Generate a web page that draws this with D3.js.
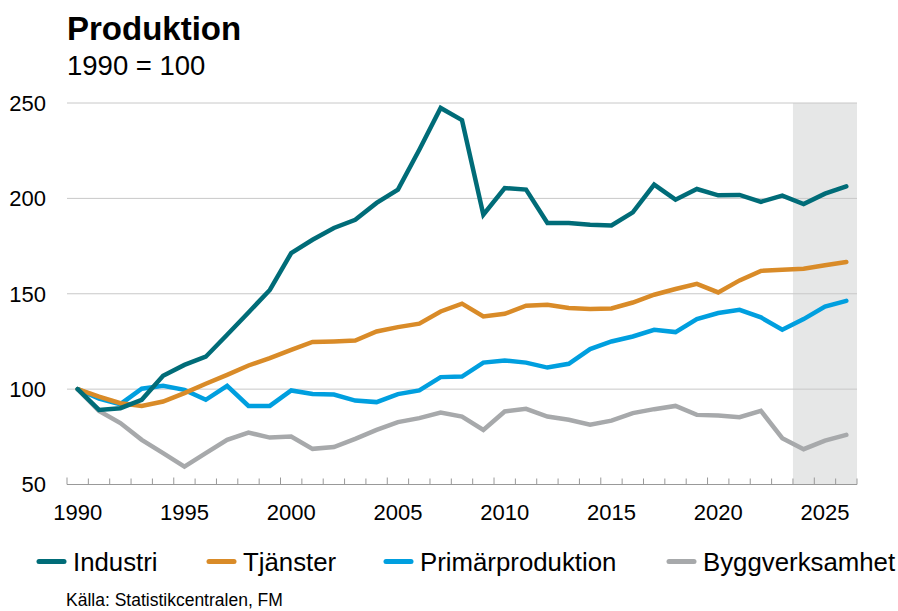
<!DOCTYPE html>
<html>
<head>
<meta charset="utf-8">
<script src="https://cdn.jsdelivr.net/npm/d3@7"></script>
<style>
  html, body { margin: 0; padding: 0; background: #fff; }
  svg { display: block; font-family: "Liberation Sans", Arial, sans-serif; }
</style>
</head>
<body>
<svg id="chart" width="898" height="611"></svg>
<script>
const years = d3.range(1990, 2027);
const forecastYears = [2024, 2025, 2026];
const yTicks = [50, 100, 150, 200, 250];
const xTickLabels = [1990, 1995, 2000, 2005, 2010, 2015, 2020, 2025];

const industri = [100, 89.1, 90, 94.4, 107, 112.7, 117, 128.5, 140.2, 152, 171.3, 178.3, 184.5, 188.8, 197.6, 204.6, 225.5, 247.4, 241, 191.4, 205.4, 204.6, 187.1, 187.1, 186.2, 185.8, 192.7, 207.2, 199.3, 204.9, 201.6, 201.8, 198.2, 201.4, 197, 202.5, 206.3];
const tjanster = [100, 96.1, 92.6, 91.2, 93.5, 97.9, 102.8, 107.5, 112.4, 116.3, 120.6, 124.7, 125, 125.5, 130.2, 132.5, 134.3, 140.7, 144.8, 138.1, 139.5, 143.7, 144.2, 142.5, 142, 142.3, 145.4, 149.5, 152.5, 155.2, 150.7, 157, 162, 162.6, 163.1, 164.9, 166.6];
const primar = [100, 95, 92.1, 100.2, 101.7, 99.6, 94.4, 101.7, 91.2, 91.2, 99.3, 97.4, 97.2, 94, 93.2, 97.4, 99.3, 106.3, 106.6, 113.9, 115, 113.9, 111.3, 113.3, 121, 125, 127.6, 131.1, 129.9, 136.7, 139.9, 141.6, 137.6, 131.1, 136.7, 143.3, 146.3];
const bygg = [100, 88.6, 82.2, 73.4, 66.4, 59.4, 66.4, 73.4, 77.2, 74.6, 75.1, 68.7, 69.6, 73.9, 78.6, 82.7, 84.8, 87.7, 85.6, 78.6, 88.3, 89.7, 85.6, 83.9, 81.3, 83.5, 87.4, 89.5, 91.2, 86.5, 86.2, 85.3, 88.6, 74.3, 68.5, 73, 76];

const seriesNames = ["Industri", "Tjänster", "Primärproduktion", "Byggverksamhet"];
const seriesValues = [industri, tjanster, primar, bygg];
const colors = ["#006c78", "#d98b28", "#009fdf", "#a7a9ab"];

const svg = d3.select("#chart");
const plotLeft = 67, plotRight = 857, plotTop = 103, plotBottom = 484.5;

const x = d3.scaleBand().domain(years).range([plotLeft, plotRight]).padding(0);
const y = d3.scaleLinear().domain([50, 250]).range([plotBottom, plotTop]);
const cx = d => x(d) + x.bandwidth() / 2;

// forecast shading
svg.append("rect")
  .attr("x", x(forecastYears[0]))
  .attr("y", plotTop)
  .attr("width", plotRight - x(forecastYears[0]))
  .attr("height", plotBottom - plotTop)
  .attr("fill", "#e6e7e7");

// gridlines
svg.append("g").selectAll("line").data(yTicks.filter(v => v > 50)).join("line")
  .attr("x1", plotLeft).attr("x2", plotRight)
  .attr("y1", d => y(d)).attr("y2", d => y(d))
  .attr("stroke", "#c8c8c8").attr("stroke-width", 1);

// y labels
svg.append("g").selectAll("text").data(yTicks).join("text")
  .attr("x", 46).attr("y", d => y(d))
  .attr("dy", "0.36em")
  .attr("text-anchor", "end")
  .attr("font-size", 22)
  .attr("fill", "#000")
  .text(d => d);

// x axis
const xAxisG = svg.append("g");
xAxisG.append("line")
  .attr("x1", plotLeft).attr("x2", plotRight)
  .attr("y1", plotBottom).attr("y2", plotBottom)
  .attr("stroke", "#999").attr("stroke-width", 1.2);
const boundaries = years.map(yy => x(yy)).concat([plotRight]);
xAxisG.selectAll("line.tick").data(boundaries).join("line")
  .attr("class", "tick")
  .attr("x1", d => d).attr("x2", d => d)
  .attr("y1", plotBottom).attr("y2", (d, i) => plotBottom - (i % 5 === 0 ? 7 : 6))
  .attr("stroke", "#999").attr("stroke-width", 1);
xAxisG.selectAll("text").data(xTickLabels).join("text")
  .attr("x", d => cx(d)).attr("y", 520)
  .attr("text-anchor", "middle")
  .attr("font-size", 22)
  .attr("fill", "#000")
  .text(d => d);

// lines
const line = d3.line().x((d, i) => cx(years[i])).y(d => y(d)).curve(d3.curveLinear);
svg.append("g").selectAll("path").data(seriesValues.slice().reverse()).join("path")
  .attr("d", d => line(d))
  .attr("fill", "none")
  .attr("stroke", (d, i) => colors[3 - i])
  .attr("stroke-width", 4.5)
  .attr("stroke-linejoin", "miter")
  .attr("stroke-linecap", "round");

// title
svg.append("text").attr("x", 67).attr("y", 40)
  .attr("font-size", 33).attr("font-weight", "bold").attr("fill", "#000")
  .text("Produktion");
svg.append("text").attr("x", 67).attr("y", 75)
  .attr("font-size", 27.5).attr("fill", "#000")
  .text("1990 = 100");

// legend
const legendX = [37, 207, 384, 667];
const lg = svg.append("g");
seriesNames.forEach((name, i) => {
  lg.append("line")
    .attr("x1", legendX[i] + 2).attr("x2", legendX[i] + 27)
    .attr("y1", 561.5).attr("y2", 561.5)
    .attr("stroke", colors[i]).attr("stroke-width", 5)
    .attr("stroke-linecap", "round");
  lg.append("text")
    .attr("x", legendX[i] + 36).attr("y", 561.5)
    .attr("dy", "0.36em")
    .attr("font-size", 25.8).attr("fill", "#000")
    .text(name);
});

// source
svg.append("text").attr("x", 66).attr("y", 606)
  .attr("font-size", 17.5).attr("fill", "#000")
  .text("Källa: Statistikcentralen, FM");
</script>
</body>
</html>
